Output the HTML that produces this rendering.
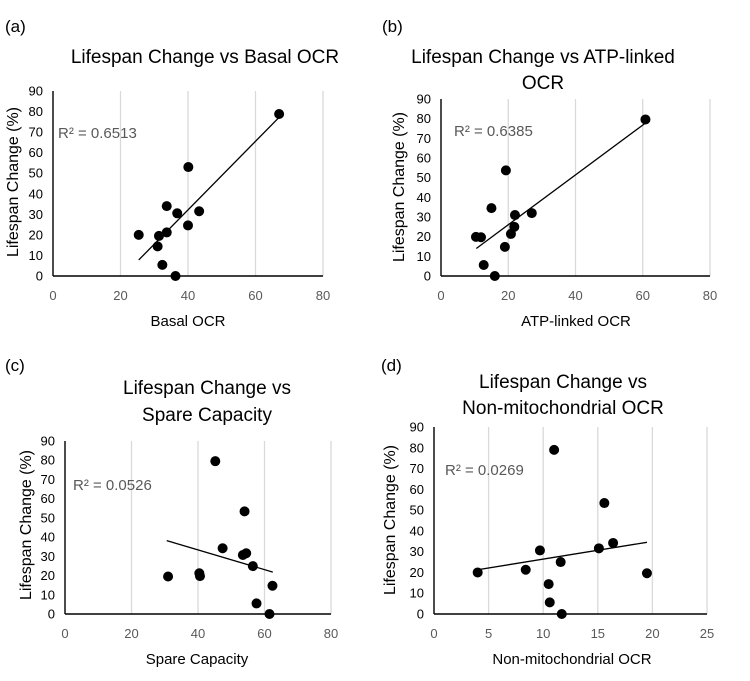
<!DOCTYPE html>
<html><head><meta charset="utf-8">
<style>
html,body{margin:0;padding:0;background:#fff;}
svg{display:block;font-family:"Liberation Sans",sans-serif;}
</style></head>
<body>
<svg id="fig" width="750" height="681" viewBox="0 0 750 681" xmlns="http://www.w3.org/2000/svg"></svg>
<script>
// Panel (a) Basal OCR
const aX = [25.4,31.4,31,32.4,33.7,33.7,36.8,36.3,40,40.1,43.3,67];
const aY = [20,19.5,14.4,5.4,21.2,34,30.5,0,24.6,53,31.5,78.8];
const aTrendX = [25.4,67];
const aTrendY = [7.8,77.2];
const aXTicks = [0,20,40,60,80];
// Panel (b) ATP-linked OCR
const bX = [10.4,11.9,12.7,15,16,19,19.3,20.8,21.8,22,27,60.8];
const bY = [19.9,19.7,5.6,34.5,0,14.8,53.7,21.4,25,31,32,79.6];
const bTrendX = [10.5,61];
const bTrendY = [14,78];
const bXTicks = [0,20,40,60,80];
// Panel (c) Spare capacity
const cX = [31,40.4,40.6,45.2,47.4,53.5,54.5,54,56.5,57.6,61.5,62.4];
const cY = [19.5,21.2,19.7,79.5,34.2,30.7,31.6,53.4,24.9,5.5,0,14.7];
const cTrendX = [30.6,62.5];
const cTrendY = [38.2,21.8];
const cXTicks = [0,20,40,60,80];
// Panel (d) Non-mitochondrial OCR
const dX = [4,8.4,9.7,10.5,10.6,11,11.6,11.7,15.1,15.6,16.4,19.5];
const dY = [20,21.3,30.6,14.4,5.6,79,25,0,31.6,53.4,34.2,19.6];
const dTrendX = [4,19.5];
const dTrendY = [21.3,34.5];
const dXTicks = [0,5,10,15,20,25];
const yTicks = [0,10,20,30,40,50,60,70,80,90];
const r2Labels = ["R² = 0.6513","R² = 0.6385","R² = 0.0526","R² = 0.0269"];

const NS = "http://www.w3.org/2000/svg";
const svg = document.getElementById('fig');
function mk(tag, attrs, parent, text){
  const e = document.createElementNS(NS, tag);
  for (const k in attrs) e.setAttribute(k, attrs[k]);
  if (text !== undefined) e.textContent = text;
  (parent||svg).appendChild(e);
  return e;
}

function panel(cfg){
  const g = mk('g', {});
  
  
  const xmax = cfg.xTicks[cfg.xTicks.length-1];
  const sx = v => cfg.x0 + (v/xmax)*(cfg.x1-cfg.x0);
  const sy = v => cfg.y0 - (v/90)*(cfg.y0-cfg.y1);
  const pl = mk('text', {x:cfg.letterX, y:cfg.letterY, 'font-size':17, fill:'#000'}, g, cfg.letter);
  
  
  cfg.title.forEach((t,i)=>{
    const te = mk('text', {x:cfg.titleX, y:cfg.titleY[i], 'font-size':19, 'text-anchor':'middle', fill:'#000'}, g, t);
    
    
  });
  cfg.xTicks.forEach(v=>{
    if (v===0) return;
    const l = mk('line', {x1:sx(v), x2:sx(v), y1:cfg.y1, y2:cfg.y0, stroke:'#d9d9d9', 'stroke-width':1.3}, g);
    
    
  });
  const ya = mk('line', {x1:cfg.x0, x2:cfg.x0, y1:cfg.y1, y2:cfg.y0, stroke:'#000', 'stroke-width':1.4}, g);
  
  
  const xa = mk('line', {x1:cfg.x0, x2:cfg.x1, y1:cfg.y0, y2:cfg.y0, stroke:'#000', 'stroke-width':1.4}, g);
  
  
  cfg.xTicks.forEach(v=>{
    const t = mk('text', {x:sx(v), y:cfg.y0+24, 'font-size':13, 'text-anchor':'middle', fill:'#595959'}, g, String(v));
    
    
  });
  yTicks.forEach(v=>{
    const t = mk('text', {x:cfg.x0-10, y:sy(v)+4.5, 'font-size':13, 'text-anchor':'end', fill:'#000'}, g, String(v));
    
    
  });
  const xt = mk('text', {x:cfg.xLabelX, y:cfg.xLabelY, 'font-size':15, 'text-anchor':'middle', fill:'#000'}, g, cfg.xLabel);
  
  
  const yt = mk('text', {x:0, y:0, 'font-size':15.5, 'text-anchor':'middle', fill:'#000', textLength:150, lengthAdjust:'spacingAndGlyphs', transform:`translate(${cfg.yLabelX},${cfg.yLabelY}) rotate(-90)`}, g, 'Lifespan Change (%)');
  
  
  const tl = mk('line', {x1:sx(cfg.tx[0]), y1:sy(cfg.ty[0]), x2:sx(cfg.tx[1]), y2:sy(cfg.ty[1]), stroke:'#000', 'stroke-width':1.3}, g);
  
  
  cfg.xs.forEach((v,i)=>{
    const c = mk('circle', {cx:sx(v), cy:sy(cfg.ys[i]), r:5, fill:'#000'}, g);
    
    
  });
  const r = mk('text', {x:cfg.r2X, y:cfg.r2Y, 'font-size':15, fill:'#595959'}, g, cfg.r2);
  
  
}

panel({id:'basal-ocr', letter:'(a)', letterX:5, letterY:32, title:['Lifespan Change vs Basal OCR'], titleX:205, titleY:[63],
  x0:53, x1:323, y0:276, y1:91, xTicks:aXTicks, xs:aX, ys:aY, tx:aTrendX, ty:aTrendY,
  xLabel:'Basal OCR', xLabelX:188, xLabelY:326, yLabelX:18, yLabelY:182, r2:r2Labels[0], r2X:58, r2Y:138});
panel({id:'atp-linked-ocr', letter:'(b)', letterX:382, letterY:32, title:['Lifespan Change vs ATP-linked','OCR'], titleX:543, titleY:[63,89],
  x0:441, x1:710, y0:276, y1:99, xTicks:bXTicks, xs:bX, ys:bY, tx:bTrendX, ty:bTrendY,
  xLabel:'ATP-linked OCR', xLabelX:576, xLabelY:326, yLabelX:404, yLabelY:187, r2:r2Labels[1], r2X:454, r2Y:136});
panel({id:'spare-capacity', letter:'(c)', letterX:5, letterY:371, title:['Lifespan Change vs','Spare Capacity'], titleX:207, titleY:[394,421],
  x0:65, x1:331, y0:614, y1:441, xTicks:cXTicks, xs:cX, ys:cY, tx:cTrendX, ty:cTrendY,
  xLabel:'Spare Capacity', xLabelX:197, xLabelY:664, yLabelX:31, yLabelY:525, r2:r2Labels[2], r2X:73, r2Y:490});
panel({id:'non-mito-ocr', letter:'(d)', letterX:381, letterY:371, title:['Lifespan Change  vs','Non-mitochondrial OCR'], titleX:563, titleY:[388,414],
  x0:434, x1:707, y0:614, y1:427, xTicks:dXTicks, xs:dX, ys:dY, tx:dTrendX, ty:dTrendY,
  xLabel:'Non-mitochondrial OCR', xLabelX:572, xLabelY:664, yLabelX:395, yLabelY:520, r2:r2Labels[3], r2X:445, r2Y:475});
</script>
</body></html>
